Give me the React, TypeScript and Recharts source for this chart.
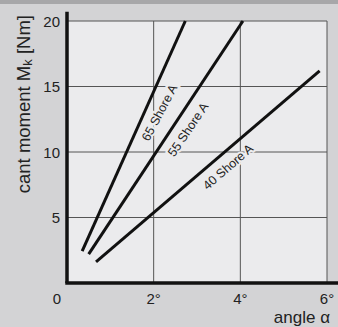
import React from "react";
import { LineChart, Line, XAxis, YAxis, CartesianGrid, ReferenceLine, ReferenceDot } from "recharts";

const xTicks = [0, 2, 4, 6];
const yTicks = [0, 5, 10, 15, 20];

const shore65 = [
  { x: 0.35, y: 2.44 },
  { x: 2.73, y: 20 },
];
const shore55 = [
  { x: 0.5, y: 2.2 },
  { x: 4.06, y: 20 },
];
const shore40 = [
  { x: 0.67, y: 1.62 },
  { x: 5.83, y: 16.2 },
];

const seriesLabels = [
  { text: "65 Shore A", x: 2.14, y: 13.0, angle: -62 },
  { text: "55 Shore A", x: 2.8, y: 11.7, angle: -56 },
  { text: "40 Shore A", x: 3.72, y: 8.85, angle: -41 },
];

const FONT = "'Liberation Sans', Arial, Helvetica, sans-serif";
const PLOT_BG = "#ebebed";
const PAGE_BG = "#d3d3d5";

const XTick = (props: any) => {
  const { x, y, payload } = props;
  const v = payload.value;
  const label = v === 0 ? "0" : `${v}°`;
  return (
    <text x={v === 0 ? x - 10 : x} y={y + 21} textAnchor="middle" fontSize={15} fill="#222" fontFamily={FONT}>
      {label}
    </text>
  );
};

const YTick = (props: any) => {
  const { x, y, payload } = props;
  if (payload.value === 0) return <g />;
  return (
    <text x={x} y={y + 5.5} textAnchor="end" fontSize={15} fill="#222" fontFamily={FONT}>
      {payload.value}
    </text>
  );
};

const makeLabel = (text: string, angle: number) => (props: any) => {
  const vb = props.viewBox || {};
  const cx = vb.x + (vb.width || 0) / 2;
  const cy = vb.y + (vb.height || 0) / 2;
  return (
    <text
      x={cx}
      y={cy}
      transform={`rotate(${angle}, ${cx}, ${cy})`}
      textAnchor="middle"
      dominantBaseline="central"
      fontSize={12.5}
      fill="#222"
      fontFamily={FONT}
      stroke={PLOT_BG}
      strokeWidth={4}
      paintOrder="stroke"
    >
      {text}
    </text>
  );
};

export default function App() {
  return (
    <div style={{ position: "absolute", left: 0, top: 0, width: 338, height: 327, background: PAGE_BG, overflow: "hidden" }}>
      <div style={{ position: "absolute", left: 0, top: 0, width: 338, height: 4, background: "#a7a7a9" }} />
      <div style={{ position: "absolute", left: 0, top: 0 }}>
        <LineChart width={338} height={327} margin={{ top: 21, right: 11, bottom: 0, left: 0 }}>
          <CartesianGrid fill={PLOT_BG} stroke="#555" strokeWidth={1} />
          <XAxis
            type="number"
            dataKey="x"
            domain={[0, 6]}
            ticks={xTicks}
            height={44}
            axisLine={false}
            tickLine={false}
            tickSize={0}
            tickMargin={0}
            tick={<XTick />}
            interval={0}
          />
          <YAxis
            type="number"
            dataKey="y"
            domain={[0, 20]}
            ticks={yTicks}
            width={67}
            axisLine={false}
            tickLine={false}
            tickSize={0}
            tickMargin={7}
            tick={<YTick />}
            interval={0}
          />
          <ReferenceLine segment={[{ x: 0, y: 0 }, { x: 0, y: 20.7 }]} stroke="#111" strokeWidth={3.5} ifOverflow="visible" />
          <ReferenceLine segment={[{ x: -0.04, y: 0 }, { x: 6.3, y: 0 }]} stroke="#111" strokeWidth={3.5} ifOverflow="visible" />
          <Line data={shore65} dataKey="y" stroke="#111" strokeWidth={3} dot={false} isAnimationActive={false} />
          <Line data={shore55} dataKey="y" stroke="#111" strokeWidth={3} dot={false} isAnimationActive={false} />
          <Line data={shore40} dataKey="y" stroke="#111" strokeWidth={3} dot={false} isAnimationActive={false} />
          {seriesLabels.map((l) => (
            <ReferenceDot key={l.text} x={l.x} y={l.y} r={0} stroke="none" fill="none" label={makeLabel(l.text, l.angle)} />
          ))}
        </LineChart>
      </div>
      <svg width={338} height={327} style={{ position: "absolute", left: 0, top: 0, pointerEvents: "none" }}>
        <text transform="rotate(-90, 30, 15)" x={30} y={15} textAnchor="end" fontSize={18.5} fill="#222" fontFamily={FONT}>
          cant moment M<tspan fontSize={13} dy={2}>k</tspan>
          <tspan dy={-2}> [Nm]</tspan>
        </text>
        <text x={330} y={323} textAnchor="end" fontSize={17} fill="#222" fontFamily={FONT}>
          angle α
        </text>
      </svg>
    </div>
  );
}
